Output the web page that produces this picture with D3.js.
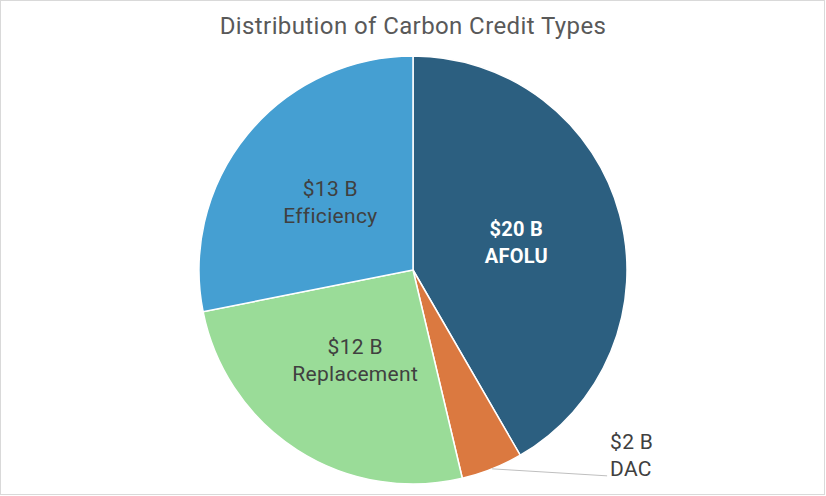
<!DOCTYPE html>
<html>
<head>
<meta charset="utf-8">
<script src="https://cdn.jsdelivr.net/npm/d3@7"></script>
<style>
  html, body { margin: 0; padding: 0; background: #fff; }
  svg { display: block; }
  text { font-family: Roboto, "Open Sans", sans-serif; }
</style>
</head>
<body>
<svg id="chart" width="826" height="496"></svg>
<script>
// Data
const categories = ["AFOLU", "DAC", "Replacement", "Efficiency"];
const values = [19.7, 2.2, 12.1, 13.3];
const valueLabels = ["$20 B", "$2 B", "$12 B", "$13 B"];
const colors = ["#2c5f80", "#db7940", "#9adc98", "#459fd2"];
const title = "Distribution of Carbon Credit Types";

const W = 826, H = 496;
const cx = 413, cy = 270, R = 214;

const svg = d3.select("#chart");

svg.append("rect")
  .attr("x", 0.5).attr("y", 0.5)
  .attr("width", W - 2).attr("height", H - 2)
  .attr("fill", "#fff")
  .attr("stroke", "#d9d9d9").attr("stroke-width", 1);

svg.append("text")
  .attr("x", cx).attr("y", 34)
  .attr("text-anchor", "middle")
  .attr("font-size", 24)
  .attr("letter-spacing", 0.4)
  .attr("fill", "#595959")
  .text(title);

const data = categories.map((c, i) => ({ cat: c, value: values[i], label: valueLabels[i], color: colors[i] }));

const pie = d3.pie().sort(null).value(d => d.value).startAngle(0).endAngle(2 * Math.PI);
const arcs = pie(data);

const arc = d3.arc().innerRadius(0).outerRadius(R);
const labelArc = d3.arc().innerRadius(R / 2).outerRadius(R / 2);
const outerArc = d3.arc().innerRadius(R).outerRadius(R);

const g = svg.append("g").attr("transform", `translate(${cx},${cy})`);

g.selectAll("path.slice")
  .data(arcs)
  .join("path")
  .attr("class", "slice")
  .attr("d", arc)
  .attr("fill", d => d.data.color)
  .attr("stroke", "#fff")
  .attr("stroke-width", 1.5);

// Inside labels
arcs.forEach((a, i) => {
  if (a.data.cat === "DAC") return;
  const [x, y] = labelArc.centroid(a);
  const bold = a.data.cat === "AFOLU";
  const fill = bold ? "#ffffff" : "#404040";
  const t = g.append("text")
    .attr("text-anchor", "middle")
    .attr("font-size", bold ? 20 : 21)
    .attr("letter-spacing", bold ? 0.3 : 0.3)
    .attr("font-weight", bold ? "bold" : "normal")
    .attr("fill", fill);
  t.append("tspan").attr("x", x).attr("y", y - 6).text(a.data.label);
  t.append("tspan").attr("x", x).attr("y", y + 21).text(a.data.cat);
});

// DAC outside label with leader line
arcs.filter(a => a.data.cat === "DAC").forEach(a => {
  const [sx, sy] = outerArc.centroid(a);
  const ex = sx + 115, ey = sy + 7;
  g.append("line")
    .attr("x1", sx).attr("y1", sy)
    .attr("x2", ex).attr("y2", ey)
    .attr("stroke", "#bfbfbf").attr("stroke-width", 1);
  const t = g.append("text")
    .attr("text-anchor", "start")
    .attr("font-size", 21)
    .attr("letter-spacing", 0.3)
    .attr("fill", "#404040");
  t.append("tspan").attr("x", ex + 3).attr("y", ey - 27).text(a.data.label);
  t.append("tspan").attr("x", ex + 3).attr("y", ey).text(a.data.cat);
});
</script>
</body>
</html>
